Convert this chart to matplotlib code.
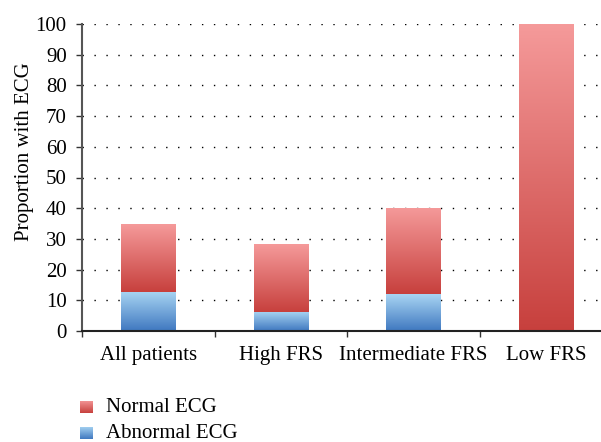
import matplotlib.pyplot as plt
import numpy as np
from matplotlib.colors import LinearSegmentedColormap

categories = ["All patients", "High FRS", "Intermediate FRS", "Low FRS"]
abnormal = [12.8, 6.2, 12.0, 0.0]
normal = [22.1, 22.1, 28.1, 100.0]
legend_labels = ["Normal ECG", "Abnormal ECG"]

plt.rcParams['font.family'] = ['Liberation Serif', 'DejaVu Serif']

red_cmap = LinearSegmentedColormap.from_list("red", ["#c7403d", "#f59a9a"])
blue_cmap = LinearSegmentedColormap.from_list("blue", ["#3f78c0", "#a9d5f3"])
grad = np.linspace(0, 1, 256).reshape(-1, 1)

fig = plt.figure(figsize=(6.01, 4.42), dpi=100)
W, H = 601, 442
ax = fig.add_axes([82 / W, (H - 331) / H, 518 / W, 307 / H])

x = np.arange(len(categories))
width = 0.41

# gradient bars: an image clipped to each bar rectangle
for xi, ab, no in zip(x, abnormal, normal):
    for bottom, height, cmap in [(0, ab, blue_cmap), (ab, no, red_cmap)]:
        if height <= 0:
            continue
        bar = ax.bar(xi, height, width, bottom=bottom, color='none', edgecolor='none')[0]
        im = ax.imshow(grad, cmap=cmap, origin='lower', aspect='auto',
                       extent=[xi - width / 2, xi + width / 2, bottom, bottom + height],
                       zorder=2)
        im.set_clip_path(bar)

ax.set_xlim(-0.5, -0.5 + 518 / 132.5)
ax.set_ylim(0, 100)
ax.set_yticks(range(0, 101, 10))
ax.set_xticks(x)
ax.set_xticklabels(categories, fontsize=15)
ax.tick_params(axis='x', length=0, pad=11)
ax.set_xticks(np.arange(len(categories)) - 0.5, minor=True)
ax.tick_params(axis='x', which='minor', length=4, direction='out', width=1, color='#333333')
ax.tick_params(axis='y', labelsize=15, length=4, pad=7, direction='out', width=1, color='#333333')

# y label sits above the axes centre, as in the original
fig.text(25 / W, (H - 152) / H, "Proportion with ECG", fontsize=15,
         rotation=90, ha='center', va='center')

ax.yaxis.grid(True, color='black', linestyle=(0, (1, 7.6)), linewidth=1)
ax.set_axisbelow(True)
for s in ['top', 'right']:
    ax.spines[s].set_visible(False)
ax.spines['left'].set_color('#555555')
ax.spines['left'].set_linewidth(1.5)
ax.spines['bottom'].set_color('#222222')
ax.spines['bottom'].set_linewidth(1.5)
ax.spines['bottom'].set_zorder(3)

# legend with gradient squares
for label, cmap, yc in zip(legend_labels, [red_cmap, blue_cmap], [407, 433]):
    lax = fig.add_axes([80 / W, (H - yc - 6.5) / H, 13 / W, 13 / H])
    lax.imshow(grad, cmap=cmap, origin='lower', aspect='auto')
    lax.axis('off')
    fig.text(106 / W, (H - yc) / H, label, fontsize=15, va='center', ha='left')

fig.savefig("out.png", dpi=100)
